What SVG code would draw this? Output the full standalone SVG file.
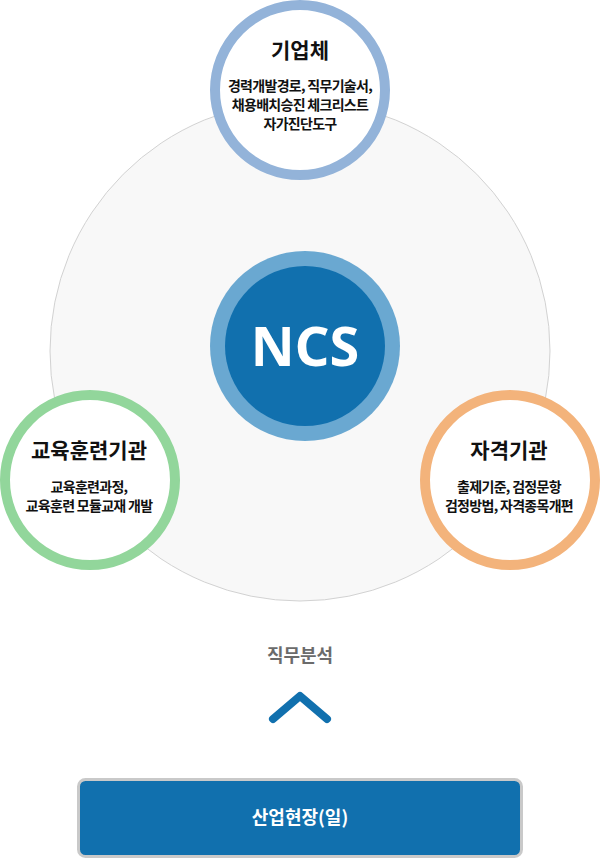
<svg xmlns="http://www.w3.org/2000/svg" width="600" height="858" viewBox="0 0 600 858">
<style>
text{font-family:"Noto Sans CJK KR","Noto Sans",sans-serif;text-anchor:middle;}
.t{font-size:21px;font-weight:700;fill:#111;letter-spacing:0px}
.s{font-size:14px;font-weight:700;fill:#111;letter-spacing:-0.7px}
.ring{fill:#fff;stroke-width:10}
</style>
<rect width="600" height="858" fill="#fff"/>
<g id="base">
<circle cx="300" cy="351" r="250" fill="#f8f8f8" stroke="#d2d2d2" stroke-width="1"/>
</g>
<g id="connectors">
<path d="M273,719 L300,696 L327,719" fill="none" stroke="#1170ae" stroke-width="8" stroke-linecap="round" stroke-linejoin="round"/>
</g>
<g id="ncs">
<circle cx="305" cy="346" r="95" fill="#6aa8d1"/>
<circle cx="305" cy="346" r="80" fill="#1170ae"/>
<text x="305" y="366" style="font-size:54px;font-weight:700;fill:#fff;font-family:'Noto Sans','Noto Sans CJK KR',sans-serif">NCS</text>
</g>
<g id="company">
<circle class="ring" cx="300" cy="90" r="85" stroke="#93b3d9"/>
<text class="t" x="300" y="58">기업체</text>
<text class="s" x="300" y="91">경력개발경로, 직무기술서,</text>
<text class="s" x="300" y="110">채용배치승진 체크리스트</text>
<text class="s" x="300" y="129">자가진단도구</text>
</g>
<g id="edu">
<circle class="ring" cx="90" cy="480" r="85" stroke="#92d69b"/>
<text class="t" x="89" y="458">교육훈련기관</text>
<text class="s" x="89" y="492">교육훈련과정,</text>
<text class="s" x="89" y="511">교육훈련 모듈교재 개발</text>
</g>
<g id="cert">
<circle class="ring" cx="510" cy="480" r="85" stroke="#f3b37b"/>
<text class="t" x="509" y="458">자격기관</text>
<text class="s" x="509" y="492">출제기준, 검정문항</text>
<text class="s" x="509" y="511">검정방법, 자격종목개편</text>
</g>
<g id="jobanalysis">
<text x="300" y="662" style="font-size:18px;font-weight:700;fill:#6b6b6b">직무분석</text>
</g>
<g id="industry">
<rect x="78.5" y="779.5" width="443" height="77" rx="7" fill="#1170ae" stroke="#c9c9c9" stroke-width="3"/>
<text x="300" y="824" style="font-size:18px;font-weight:700;fill:#fff">산업현장(일)</text>
</g>
</svg>
